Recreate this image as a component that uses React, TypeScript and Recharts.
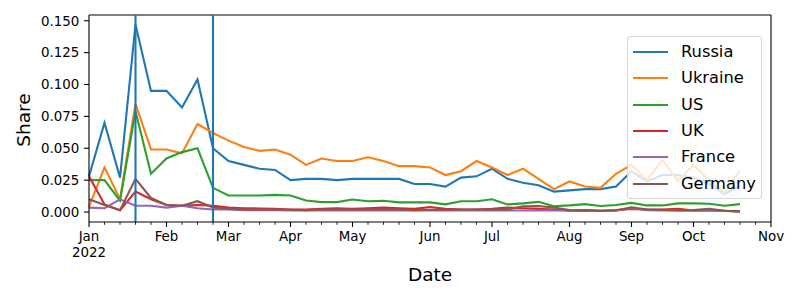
import { LineChart, Line, XAxis, YAxis, ReferenceLine, Legend } from "recharts";

// weekly share of mentions, weeks 0..42 (first week of Jan 2022 onwards)
const russia = [
  0.028, 0.070, 0.027, 0.147, 0.095, 0.095, 0.082, 0.104, 0.050, 0.040,
  0.037, 0.034, 0.033, 0.025, 0.026, 0.026, 0.025, 0.026, 0.026, 0.026,
  0.026, 0.022, 0.022, 0.020, 0.027, 0.028, 0.034, 0.026, 0.023, 0.021,
  0.016, 0.017, 0.018, 0.018, 0.020, 0.032, 0.024, 0.029, 0.029, 0.027,
  0.022, 0.014, 0.021,
];
const ukraine = [
  0.004, 0.035, 0.010, 0.085, 0.049, 0.049, 0.046, 0.069, 0.062, 0.056,
  0.051, 0.048, 0.049, 0.045, 0.037, 0.042, 0.040, 0.040, 0.043, 0.040,
  0.036, 0.036, 0.035, 0.029, 0.032, 0.040, 0.035, 0.029, 0.034, 0.026,
  0.018, 0.024, 0.020, 0.019, 0.030, 0.037, 0.025, 0.041, 0.024, 0.037,
  0.025, 0.015, 0.033,
];
const us = [
  0.025, 0.025, 0.009, 0.079, 0.030, 0.042, 0.047, 0.050, 0.019, 0.013,
  0.013, 0.013, 0.0135, 0.013, 0.009, 0.0078, 0.0078, 0.0098, 0.0085, 0.0088,
  0.0076, 0.0076, 0.0076, 0.006, 0.0085, 0.0085, 0.010, 0.006, 0.0068, 0.008,
  0.0045, 0.0052, 0.0062, 0.0047, 0.0055, 0.0072, 0.0052, 0.0052, 0.0068, 0.0068,
  0.0065, 0.005, 0.0062,
];
const uk = [
  0.028, 0.006, 0.0015, 0.016, 0.010, 0.0055, 0.005, 0.0055, 0.005, 0.0035,
  0.003, 0.0028, 0.0025, 0.002, 0.002, 0.0025, 0.003, 0.0025, 0.003, 0.0035,
  0.003, 0.0025, 0.004, 0.0025, 0.002, 0.002, 0.0025, 0.0035, 0.003, 0.0025,
  0.002, 0.0012, 0.0015, 0.001, 0.0015, 0.0025, 0.002, 0.002, 0.0025, 0.0012,
  0.0015, 0.001, 0.0005,
];
const france = [
  0.0035, 0.003, 0.010, 0.005, 0.005, 0.0035, 0.005, 0.003, 0.002, 0.002,
  0.0015, 0.0015, 0.0015, 0.0012, 0.0012, 0.0012, 0.0012, 0.0012, 0.0012, 0.0012,
  0.0012, 0.0012, 0.0012, 0.0012, 0.0012, 0.0012, 0.0012, 0.0012, 0.0012, 0.0012,
  0.0012, 0.001, 0.001, 0.001, 0.0012, 0.003, 0.0015, 0.0012, 0.0012, 0.001,
  0.001, 0.0008, 0.0005,
];
const germany = [
  0.010, 0.0055, 0.0015, 0.026, 0.011, 0.0055, 0.005, 0.0085, 0.0035, 0.0025,
  0.002, 0.002, 0.002, 0.0018, 0.0015, 0.002, 0.002, 0.002, 0.002, 0.002,
  0.002, 0.0015, 0.0018, 0.0018, 0.002, 0.002, 0.0022, 0.002, 0.0045, 0.0048,
  0.0035, 0.0015, 0.0012, 0.001, 0.0012, 0.0038, 0.002, 0.0018, 0.0012, 0.0015,
  0.0025, 0.001, 0.0005,
];

const countries = ["Russia", "Ukraine", "US", "UK", "France", "Germany"];
const series = [russia, ukraine, us, uk, france, germany];
const colors = ["#1f77b4", "#ff7f0e", "#2ca02c", "#d62728", "#9467bd", "#8c564b"];

// month labels sit on the week that contains the 1st of the month
const monthTicks = [0, 5, 9, 13, 17, 22, 26, 31, 35, 39, 44];
const monthLabels = ["Jan", "Feb", "Mar", "Apr", "May", "Jun", "Jul", "Aug", "Sep", "Oct", "Nov"];
const weekTicks = Array.from({ length: 45 }, (_, i) => i);
const yTicks = [0, 0.025, 0.05, 0.075, 0.1, 0.125, 0.15];
const markerWeeks = [3, 8];

const data = russia.map((_, i) => {
  const row: Record<string, number> = { week: i };
  countries.forEach((c, k) => (row[c] = series[k][i]));
  return row;
});

const FONT = "'DejaVu Sans', sans-serif";
const xDomain: [number, number] = [0, 44];
const yDomain: [number, number] = [-0.0078, 0.1545];
const spine = { stroke: "#000", strokeWidth: 1.1 };

function XTick(props: any) {
  const { x, y, payload } = props;
  const idx = monthTicks.indexOf(payload.value);
  const major = idx >= 0;
  return (
    <g>
      <line
        x1={x}
        x2={x}
        y1={y}
        y2={y + (major ? 4.9 : 2.8)}
        stroke="#000"
        strokeWidth={major ? 1.1 : 0.85}
      />
      {major && (
        <text x={x} y={y + 19} textAnchor="middle" fontSize={13.4} fontFamily={FONT} fill="#000">
          {monthLabels[idx]}
        </text>
      )}
      {idx === 0 && (
        <text x={x} y={y + 34.7} textAnchor="middle" fontSize={13.4} fontFamily={FONT} fill="#000">
          2022
        </text>
      )}
    </g>
  );
}

function YTick(props: any) {
  const { x, y, payload } = props;
  return (
    <g>
      <line x1={x - 4.9} x2={x} y1={y} y2={y} stroke="#000" strokeWidth={1.1} />
      <text x={x - 9.7} y={y} dy="0.36em" textAnchor="end" fontSize={13.4} fontFamily={FONT} fill="#000">
        {Number(payload.value).toFixed(3)}
      </text>
    </g>
  );
}

function LegendBox() {
  return (
    <div
      style={{
        position: "relative",
        width: 135,
        height: 163,
        boxSizing: "border-box",
        background: "rgba(255,255,255,0.8)",
        border: "1px solid rgba(204,204,204,0.8)",
        borderRadius: 4,
        fontFamily: FONT,
        fontSize: 16.3,
        color: "#000",
      }}
    >
      {countries.map((c, i) => {
        const cy = 15 + i * 26.34;
        return (
          <div key={c}>
            <span
              style={{
                position: "absolute",
                left: 5,
                top: cy - 1.05,
                width: 34.6,
                height: 2.1,
                background: colors[i],
              }}
            />
            <span
              style={{
                position: "absolute",
                left: 53,
                top: cy - 8.1,
                lineHeight: 1,
                whiteSpace: "nowrap",
              }}
            >
              {c}
            </span>
          </div>
        );
      })}
    </div>
  );
}

export default function App() {
  return (
    <div style={{ position: "absolute", left: 0, top: 0, width: 800, height: 300, background: "#fff" }}>
      <LineChart width={800} height={300} data={data} margin={{ top: 15, right: 29, bottom: 0, left: 0 }}>
        <XAxis
          dataKey="week"
          type="number"
          domain={xDomain}
          ticks={weekTicks}
          interval={0}
          tick={<XTick />}
          tickLine={false}
          tickSize={0}
          tickMargin={0}
          height={78}
          axisLine={spine}
        />
        <YAxis
          type="number"
          domain={yDomain}
          ticks={yTicks}
          interval={0}
          width={89}
          tick={<YTick />}
          tickLine={false}
          tickSize={0}
          tickMargin={0}
          allowDataOverflow
          axisLine={spine}
        />
        {/* top and right spines */}
        <ReferenceLine y={yDomain[1]} {...spine} />
        <ReferenceLine x={xDomain[1]} {...spine} />
        {countries.map((c, i) => (
          <Line
            key={c}
            dataKey={c}
            name={c}
            stroke={colors[i]}
            strokeWidth={2.1}
            dot={false}
            activeDot={false}
            isAnimationActive={false}
          />
        ))}
        {markerWeeks.map((w) => (
          <ReferenceLine key={w} x={w} stroke="#1f77b4" strokeWidth={2.1} />
        ))}
        <Legend
          layout="vertical"
          align="center"
          verticalAlign="middle"
          content={() => <LegendBox />}
          wrapperStyle={{ position: "absolute", left: 627, top: 36, width: 136, height: 164, margin: 0 }}
        />
      </LineChart>
      <div
        style={{
          position: "absolute",
          left: 24,
          top: 120,
          transform: "translate(-50%, -50%) rotate(-90deg)",
          fontFamily: FONT,
          fontSize: 18.5,
          lineHeight: 1,
          whiteSpace: "nowrap",
        }}
      >
        Share
      </div>
      <div
        style={{
          position: "absolute",
          left: 430,
          top: 266,
          transform: "translateX(-50%)",
          fontFamily: FONT,
          fontSize: 18.5,
          lineHeight: 1,
          whiteSpace: "nowrap",
        }}
      >
        Date
      </div>
    </div>
  );
}
